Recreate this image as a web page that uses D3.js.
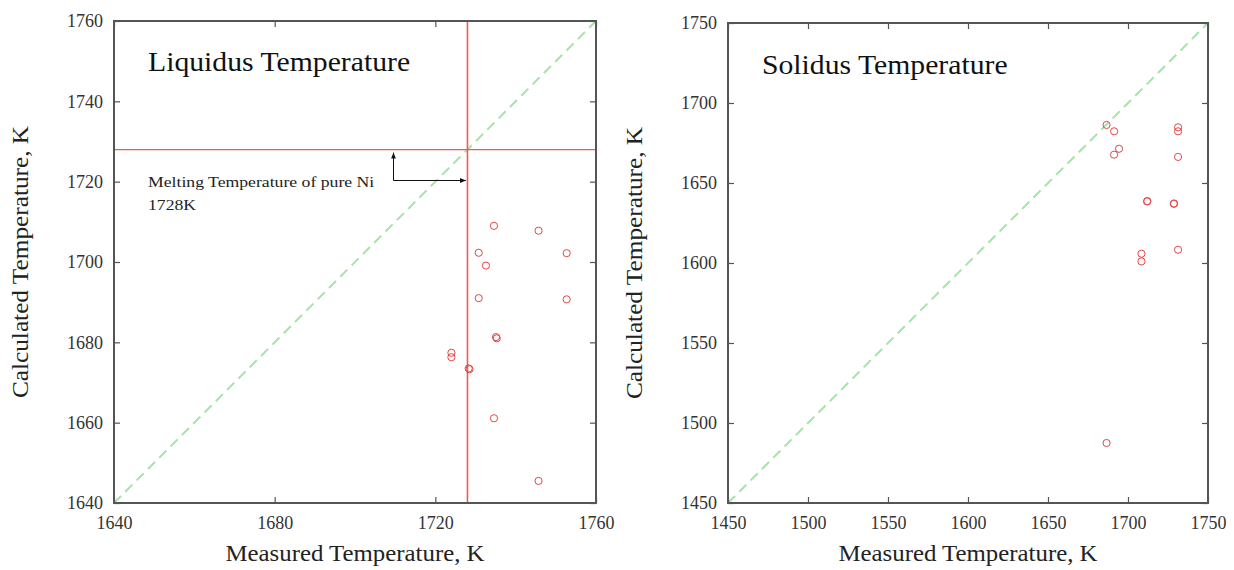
<!DOCTYPE html>
<html>
<head>
<meta charset="utf-8">
<script src="https://cdn.jsdelivr.net/npm/d3@7"></script>
<style>
  body { margin: 0; background: #fff; }
  svg { display: block; font-family: "Liberation Serif", "DejaVu Serif", serif; }
</style>
</head>
<body>
<div id="chart"></div>
<script>
// liquidus panel data (measured vs calculated, K)
const liqMeasured   = [1734.6, 1745.7, 1730.8, 1752.7, 1732.6, 1730.8, 1752.7, 1735.1, 1735.3, 1724.0, 1724.0, 1728.3, 1728.5, 1734.6, 1745.7];
const liqCalculated = [1709.0, 1707.8, 1702.3, 1702.2, 1699.1, 1691.0, 1690.7, 1681.3, 1681.0, 1677.4, 1676.3, 1673.5, 1673.3, 1661.1, 1645.5];

// solidus panel data
const solMeasured   = [1686.6, 1691.3, 1694.4, 1691.3, 1731.3, 1731.3, 1731.3, 1711.9, 1712.1, 1728.6, 1728.8, 1731.3, 1708.4, 1708.4, 1686.6];
const solCalculated = [1686.3, 1682.3, 1671.4, 1667.7, 1684.8, 1682.3, 1666.3, 1638.5, 1638.7, 1637.0, 1637.2, 1608.3, 1605.8, 1601.0, 1487.5];

const liqXTicks = [1640, 1680, 1720, 1760];
const liqYTicks = [1640, 1660, 1680, 1700, 1720, 1740, 1760];
const solTicks  = [1450, 1500, 1550, 1600, 1650, 1700, 1750];
const niMelting = 1728;

const width = 1234, height = 570;
const stretch = 1.12; // the source image is a bit wider than tall

const svg = d3.select("#chart")
  .append("svg")
  .attr("width", width)
  .attr("height", height)
  .style("background", "#fff");

function label(g, x, y, txt, size, opts = {}) {
  const rot = opts.rotate ? ` rotate(${opts.rotate})` : "";
  return g.append("text")
    .attr("transform", `translate(${x},${y})${rot} scale(${opts.sx || stretch},1)`)
    .attr("text-anchor", opts.anchor || "start")
    .attr("font-size", size)
    .attr("fill", opts.fill || "#222")
    .text(txt);
}

function drawPanel(opt) {
  const x = d3.scaleLinear().domain(opt.domain).range([opt.left, opt.right]);
  const y = d3.scaleLinear().domain(opt.domain).range([opt.bottom, opt.top]);
  const g = svg.append("g");

  // diagonal y = x
  g.append("line")
    .attr("x1", x(opt.domain[0])).attr("y1", y(opt.domain[0]))
    .attr("x2", x(opt.domain[1])).attr("y2", y(opt.domain[1]))
    .attr("stroke", "#a3e6a3")
    .attr("stroke-width", 2)
    .attr("stroke-dasharray", "10 6");

  if (opt.extra) opt.extra(g, x, y);

  g.append("g")
    .selectAll("circle")
    .data(opt.mx.map((m, i) => [m, opt.my[i]]))
    .join("circle")
    .attr("cx", d => x(d[0]))
    .attr("cy", d => y(d[1]))
    .attr("r", 3.6)
    .attr("fill", "none")
    .attr("stroke", "#e04848")
    .attr("stroke-width", 1);

  // axes: inward ticks on all four sides
  const styleAxis = sel => {
    sel.select(".domain").remove();
    sel.selectAll(".tick line").attr("stroke", "#555").attr("stroke-width", 1.2);
    sel.selectAll(".tick text").attr("fill", "#333").attr("font-size", 18)
      .attr("font-family", "Liberation Serif, serif");
  };
  g.append("g").attr("transform", `translate(0,${opt.bottom})`)
    .call(d3.axisBottom(x).tickValues(opt.xTicks).tickFormat(d3.format("d")).tickSizeInner(-6).tickPadding(13))
    .call(styleAxis);
  g.append("g").attr("transform", `translate(0,${opt.top})`)
    .call(d3.axisTop(x).tickValues(opt.xTicks).tickFormat("").tickSizeInner(-6))
    .call(styleAxis);
  g.append("g").attr("transform", `translate(${opt.left},0)`)
    .call(d3.axisLeft(y).tickValues(opt.yTicks).tickFormat(d3.format("d")).tickSizeInner(-6).tickPadding(11))
    .call(styleAxis);
  g.append("g").attr("transform", `translate(${opt.right},0)`)
    .call(d3.axisRight(y).tickValues(opt.yTicks).tickFormat("").tickSizeInner(-6))
    .call(styleAxis);

  g.append("rect")
    .attr("x", opt.left).attr("y", opt.top)
    .attr("width", opt.right - opt.left).attr("height", opt.bottom - opt.top)
    .attr("fill", "none")
    .attr("stroke", "#555")
    .attr("stroke-width", 2);

  label(g, opt.titleX, opt.titleY, opt.title, 27, { fill: "#111", sx: 1.1 });
  label(g, (opt.left + opt.right) / 2, 561, "Measured Temperature, K", 23, { anchor: "middle", sx: 1.08 });
  label(g, opt.left - 86, (opt.top + opt.bottom) / 2, "Calculated Temperature, K", 23,
    { anchor: "middle", rotate: -90, sx: 1.1 });
}

svg.append("defs").append("marker")
  .attr("id", "arrow")
  .attr("viewBox", "0 -5 10 10")
  .attr("refX", 10)
  .attr("refY", 0)
  .attr("orient", "auto")
  .attr("markerWidth", 6)
  .attr("markerHeight", 6)
  .append("path")
  .attr("d", "M0,-4L10,0L0,4Z")
  .attr("fill", "#111");

drawPanel({
  domain: [1640, 1760],
  left: 114, right: 596, top: 21, bottom: 503,
  xTicks: liqXTicks, yTicks: liqYTicks,
  mx: liqMeasured, my: liqCalculated,
  title: "Liquidus Temperature", titleX: 148, titleY: 71,
  extra: (g, x, y) => {
    const px = x(niMelting), py = y(niMelting);
    g.append("line")
      .attr("x1", px).attr("x2", px)
      .attr("y1", y(1640)).attr("y2", y(1760))
      .attr("stroke", "#ec5a5a").attr("stroke-width", 1.6);
    g.append("line")
      .attr("x1", x(1640)).attr("x2", x(1760))
      .attr("y1", py).attr("y2", py)
      .attr("stroke", "#ec5a5a").attr("stroke-width", 1.3);
    // annotation arrows
    const cx = 393.5, cy = 180.5;
    g.append("line").attr("x1", cx).attr("y1", cy).attr("x2", cx).attr("y2", py + 3)
      .attr("stroke", "#111").attr("marker-end", "url(#arrow)");
    g.append("line").attr("x1", cx).attr("y1", cy).attr("x2", px - 1.5).attr("y2", cy)
      .attr("stroke", "#111").attr("marker-end", "url(#arrow)");
    label(g, 148, 187, "Melting Temperature of pure Ni", 15, { sx: 1.18 });
    label(g, 148, 210, "1728K", 15, { sx: 1.18 });
  }
});

drawPanel({
  domain: [1450, 1750],
  left: 728, right: 1208, top: 23, bottom: 503,
  xTicks: solTicks, yTicks: solTicks,
  mx: solMeasured, my: solCalculated,
  title: "Solidus Temperature", titleX: 762, titleY: 74
});
</script>
</body>
</html>
